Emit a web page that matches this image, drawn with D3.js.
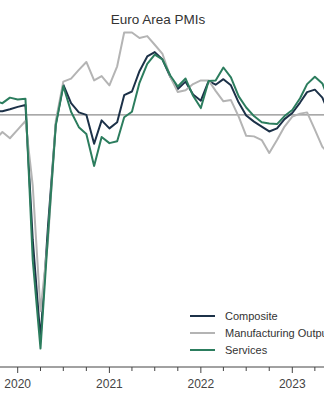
<!DOCTYPE html>
<html><head><meta charset="utf-8">
<script src="https://cdn.jsdelivr.net/npm/d3@7"></script>
<style>html,body{margin:0;padding:0;background:#fff;overflow:hidden}svg{display:block}</style>
</head><body>
<svg id="c" width="324" height="400"></svg>
<script>
const months = ["2019-10","2019-11","2019-12",
 "2020-01","2020-02","2020-03","2020-04","2020-05","2020-06","2020-07","2020-08","2020-09","2020-10","2020-11","2020-12",
 "2021-01","2021-02","2021-03","2021-04","2021-05","2021-06","2021-07","2021-08","2021-09","2021-10","2021-11","2021-12",
 "2022-01","2022-02","2022-03","2022-04","2022-05","2022-06","2022-07","2022-08","2022-09","2022-10","2022-11","2022-12",
 "2023-01","2023-02","2023-03","2023-04","2023-05","2023-06","2023-07"];
const composite = [50.6,50.6,50.9,
 51.3,51.6,29.7,13.6,31.9,48.5,54.9,51.9,50.4,50.0,45.3,49.1,
 47.8,48.8,53.2,53.8,57.1,59.5,60.2,59.0,56.2,54.2,55.4,53.3,
 52.3,55.5,54.9,55.8,54.8,52.0,49.9,48.9,48.1,47.3,47.8,49.3,
 50.3,52.0,53.7,54.1,52.8,49.9,48.6];
const manufacturingOutput = [45.9,47.2,46.2,
 47.6,49.0,38.5,18.1,29.6,49.0,55.4,55.9,57.3,58.6,55.6,56.3,
 54.8,57.9,63.4,63.4,62.5,62.8,61.4,59.9,56.2,53.7,54.0,55.0,
 55.6,55.6,53.9,52.2,52.4,49.7,46.6,46.5,45.9,43.8,45.9,48.1,
 49.7,50.2,50.4,47.6,44.8,43.5,42.7];
const services = [52.2,51.9,52.8,
 52.5,52.6,26.4,12.0,30.5,48.3,54.7,50.5,48.0,46.9,41.7,46.4,
 45.4,45.7,49.6,50.5,55.2,58.3,59.8,59.0,56.4,54.6,55.9,53.1,
 51.1,55.5,55.6,57.7,56.1,53.0,51.2,49.8,48.8,48.6,48.5,49.8,
 50.8,52.7,55.0,56.2,55.1,52.0,50.9];
const yearTicks = ["2020","2021","2022","2023"];
const seriesNames = ["Composite","Manufacturing Output","Services"];
const seriesColors = ["#1c3148","#b4b4b4","#2c7d5e"];
const title = "Euro Area PMIs";

const parse = d3.timeParse("%Y-%m");
const dates = months.map(parse);
const svg = d3.select("#c");
const x = d3.scaleTime().domain([new Date(2020,0,1), new Date(2023,0,1)]).range([17.7, 292.3]);
const y = d3.scaleLinear().domain([9, 70]).range([367, -8.15]);

// reference line at 50
svg.append("line").attr("x1",0).attr("x2",324).attr("y1",y(50)).attr("y2",y(50))
  .attr("stroke","#8c8c8c").attr("stroke-width",1.2);

const seriesData = [composite, manufacturingOutput, services];
const line = d3.line().x((d,i)=>x(dates[i])).y(d=>y(d));
[0,1,2].forEach(k=>{
  svg.append("path").datum(seriesData[k]).attr("d", line)
    .attr("fill","none").attr("stroke", seriesColors[k]).attr("stroke-width",2)
    .attr("stroke-linejoin","round");
});

// x axis
const axisY = y(9);
const ax = svg.append("g").attr("transform",`translate(0,${axisY})`);
ax.append("line").attr("x1",0).attr("x2",324).attr("stroke","#444").attr("stroke-width",1);
const yearDates = yearTicks.map(t=>new Date(+t,0,1));
const quarterDates = d3.timeMonth.every(3).range(new Date(2019,6,1), new Date(2024,1,1)).filter(d=>d.getMonth()!==0);
ax.selectAll("line.minor").data(quarterDates).join("line").attr("class","minor")
  .attr("x1",d=>x(d)).attr("x2",d=>x(d)).attr("y1",0).attr("y2",4).attr("stroke","#444");
ax.selectAll("line.major").data(yearDates).join("line").attr("class","major")
  .attr("x1",d=>x(d)).attr("x2",d=>x(d)).attr("y1",0).attr("y2",6).attr("stroke","#444");
ax.selectAll("text").data(yearTicks).join("text")
  .attr("x",(d,i)=>x(yearDates[i])).attr("y",21).attr("text-anchor","middle")
  .attr("font-family","Liberation Sans, Arial, sans-serif").attr("font-size",12).attr("fill","#444")
  .text(d=>d);

// title
svg.append("text").attr("x",158).attr("y",24).attr("text-anchor","middle")
  .attr("font-family","Liberation Sans, Arial, sans-serif").attr("font-size",13.5).attr("fill","#333")
  .text(title);

// legend
const lg = svg.append("g");
seriesNames.forEach((n,i)=>{
  const ly = 316 + i*17;
  lg.append("line").attr("x1",190).attr("x2",215).attr("y1",ly).attr("y2",ly)
    .attr("stroke",seriesColors[i]).attr("stroke-width",2);
  lg.append("text").attr("x",225).attr("y",ly+4)
    .attr("font-family","Liberation Sans, Arial, sans-serif").attr("font-size",11).attr("fill","#333")
    .text(n);
});
</script>
</body></html>
